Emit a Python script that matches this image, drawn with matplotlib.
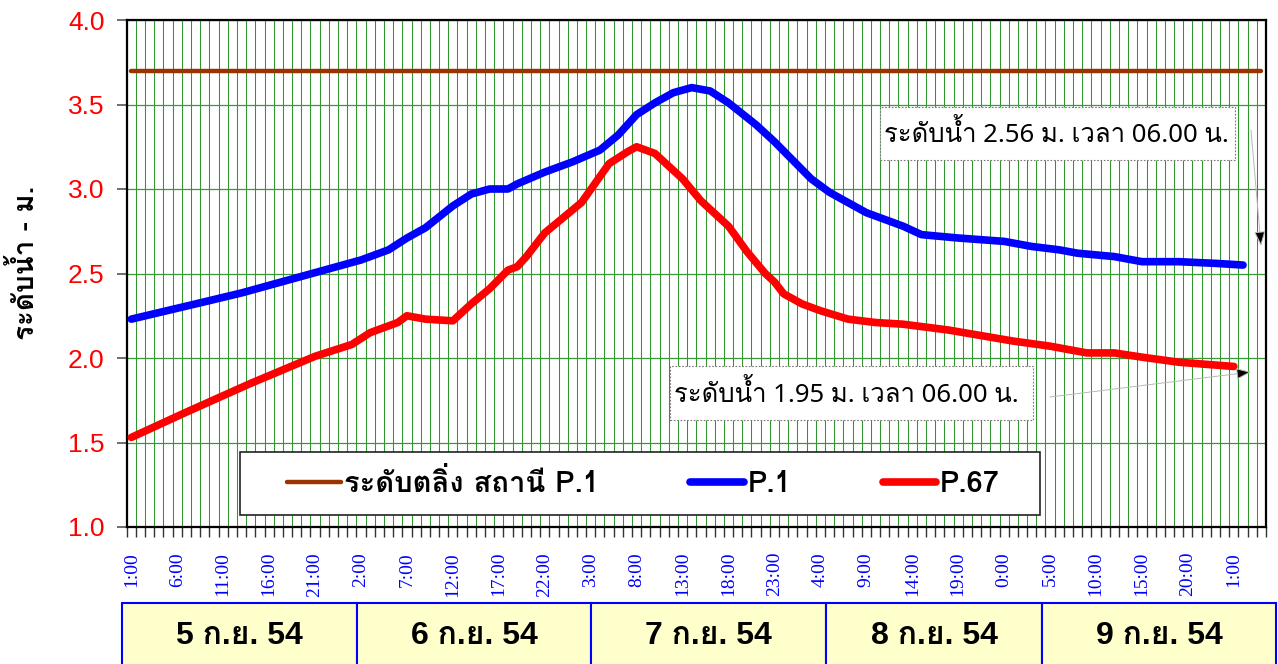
import numpy as np
import matplotlib
matplotlib.use("Agg")
import matplotlib.pyplot as plt
from matplotlib import font_manager, ft2font
from matplotlib.patches import Rectangle

# ---------------- data ----------------
n_hours = 124  # hourly categories starting 1:00 on 5 Sep
tick_label_hours = [0, 5, 10, 15, 20, 25, 30, 35, 40, 45, 50, 55, 60, 65, 70,
                    75, 80, 85, 90, 95, 100, 105, 110, 115, 120]
tick_labels = ["1:00", "6:00", "11:00", "16:00", "21:00", "2:00", "7:00", "12:00",
               "17:00", "22:00", "3:00", "8:00", "13:00", "18:00", "23:00", "4:00",
               "9:00", "14:00", "19:00", "0:00", "5:00", "10:00", "15:00", "20:00", "1:00"]
day_labels = ["5 ก.ย. 54", "6 ก.ย. 54", "7 ก.ย. 54", "8 ก.ย. 54", "9 ก.ย. 54"]

bank_level = 3.70

p1_hours = [0, 7, 12, 17, 21, 25, 28, 30, 32, 35, 37, 39, 41, 42, 45, 48, 51, 53, 55,
            57, 59, 61, 63, 65, 68, 70, 72, 74, 76, 78, 80, 84, 86, 90, 95, 98, 101,
            103, 107, 110, 114, 118, 121]
p1_levels = [2.23, 2.32, 2.385, 2.46, 2.52, 2.58, 2.64, 2.71, 2.77, 2.90, 2.97, 3.00,
             3.00, 3.03, 3.10, 3.16, 3.23, 3.32, 3.44, 3.51, 3.57, 3.60, 3.58, 3.51,
             3.38, 3.28, 3.17, 3.06, 2.98, 2.92, 2.86, 2.78, 2.73, 2.71, 2.69, 2.66,
             2.64, 2.62, 2.60, 2.57, 2.57, 2.56, 2.55]

p67_hours = [0, 6, 13, 20, 24, 26, 29, 30, 32, 35, 37, 39, 41, 42, 43, 45, 49, 52, 54,
             55, 57, 60, 62, 65, 67, 69, 70, 71, 73, 75, 78, 81, 84, 89, 96, 100, 104,
             107, 110, 114, 120]
p67_levels = [1.53, 1.68, 1.85, 2.01, 2.08, 2.15, 2.21, 2.25, 2.23, 2.22, 2.32, 2.41,
              2.52, 2.54, 2.60, 2.74, 2.92, 3.15, 3.22, 3.25, 3.21, 3.06, 2.93, 2.78,
              2.63, 2.50, 2.45, 2.38, 2.32, 2.28, 2.23, 2.21, 2.20, 2.165, 2.10, 2.07,
              2.03, 2.03, 2.005, 1.975, 1.95]

series_names = ["ระดับตลิ่ง สถานี P.1", "P.1", "P.67"]
note_p1 = "ระดับน้ำ 2.56 ม. เวลา 06.00 น."
note_p67 = "ระดับน้ำ 1.95 ม. เวลา 06.00 น."
y_label = "ระดับน้ำ - ม."


# ---------------- fonts ----------------
def thai_fonts():
    fams = {}
    for fe in font_manager.fontManager.ttflist:
        try:
            cmap = ft2font.FT2Font(fe.fname).get_charmap()
        except Exception:
            continue
        if 0x0E23 in cmap and 0x0E14 in cmap:
            w = fe.weight if isinstance(fe.weight, int) else 400
            fams.setdefault(fe.name, set()).add(w)
    return fams


FAMS = thai_fonts()
PREF = ["Loma", "Tahoma", "Leelawadee UI", "Garuda", "Sarabun", "Noto Sans Thai Looped",
        "Noto Sans Thai", "Waree", "Umpush"]


def pick(need_bold=False):
    for p in PREF:
        if p in FAMS and (not need_bold or max(FAMS[p]) >= 600):
            return p
    for name, ws in FAMS.items():
        if not need_bold or max(ws) >= 600:
            return name
    return "DejaVu Sans"


THAI = pick(False)
THAI_B = pick(True)
SANS = "Liberation Sans"
SERIF = "Liberation Serif"

W, H = 1278, 664
fig = plt.figure(figsize=(W / 100, H / 100), dpi=100)

ax_l, ax_r, ax_t, ax_b = 126.7, 1266, 20, 527
ax = fig.add_axes([ax_l / W, 1 - ax_b / H, (ax_r - ax_l) / W, (ax_b - ax_t) / H])

ax.set_xlim(-0.5, n_hours - 0.5)
ax.set_ylim(1.0, 4.0)

ax.set_xticks(np.arange(-0.5, n_hours, 1.0))
ax.set_xticklabels([])
ax.set_xticks(tick_label_hours, minor=True)
ax.set_xticklabels(tick_labels, minor=True, rotation=90, color="#0000FF",
                   family=SERIF, fontsize=14, va="top", ha="center")
ax.tick_params(axis="x", which="major", length=7, width=1, color="#333333", direction="out")
ax.tick_params(axis="x", which="minor", length=0, pad=18)
ax.set_yticks(np.arange(1.0, 4.01, 0.5))
ax.set_yticklabels([f"{v:.1f}" for v in np.arange(1.0, 4.01, 0.5)],
                   color="#FF0000", family=SANS, fontsize=19)
ax.tick_params(axis="y", length=7, width=1.2, color="#555555", pad=9)
ax.grid(True, axis="x", which="major", color="#2f962f", lw=0.75, zorder=0)
ax.grid(True, axis="y", which="major", color="#3a9a3a", lw=0.9, zorder=0)
ax.set_axisbelow(True)
for s in ax.spines.values():
    s.set_color("black")
    s.set_linewidth(1.6)

ax.plot([0, n_hours - 1], [bank_level, bank_level], color="#993300", lw=3.2,
        solid_capstyle="round", label=series_names[0], zorder=3)
ax.plot(p1_hours, p1_levels, color="#0000FF", lw=5.5, solid_capstyle="round",
        solid_joinstyle="round", label=series_names[1], zorder=4)
ax.plot(p67_hours, p67_levels, color="#FF0000", lw=5.5, solid_capstyle="round",
        solid_joinstyle="round", label=series_names[2], zorder=4)

ax.set_ylabel(y_label, family=[THAI_B, "DejaVu Sans"], fontweight="bold", fontsize=20)
ax.yaxis.set_label_coords(-0.077, 0.52)


def px2ax(x, y):
    return (x - ax_l) / (ax_r - ax_l), (ax_b - y) / (ax_b - ax_t)


fx0, fy0 = px2ax(240, 515)
fx1, fy1 = px2ax(1040, 452)
ax.add_patch(Rectangle((fx0, fy0), fx1 - fx0, fy1 - fy0, transform=ax.transAxes,
                       fc="white", ec="#222222", lw=1.2, zorder=6))
lx0, _ = px2ax(287, 0)
lx1, _ = px2ax(1000, 0)
leg = ax.legend(loc="center", bbox_to_anchor=(lx0, fy0, lx1 - lx0, fy1 - fy0),
                mode="expand", ncol=3, frameon=False, borderaxespad=0, borderpad=0,
                handlelength=1.85, handletextpad=0.12,
                prop={"family": ["Liberation Sans Narrow", THAI_B, "DejaVu Sans"],
                      "size": 21, "weight": "bold"})
leg.set_zorder(7)


def px2data(x, y):
    scale = (ax_r - ax_l) / n_hours
    return (x - ax_l) / scale - 0.5, 4.0 - (y - ax_t) / ((ax_b - ax_t) / 3.0)


note_font = {"family": ["Noto Sans", THAI, "DejaVu Sans"], "size": 18.5}
for note, box, tail, head in [
        (note_p1, (880, 107, 1235, 160), (1251, 130), (1261, 246)),
        (note_p67, (670, 366, 1033, 420), (1050, 397), (1251, 372))]:
    bx0, by0 = px2data(box[0], box[3])
    bx1, by1 = px2data(box[2], box[1])
    ax.add_patch(Rectangle((bx0, by0), bx1 - bx0, by1 - by0, fc="white", ec="#777777",
                           lw=0.8, ls=(0, (1.5, 1.5)), zorder=5))
    tx, ty = px2data(box[0] + 4, (box[1] + box[3]) / 2 + 1)
    ax.text(tx, ty, note, ha="left", va="center", zorder=6, **note_font)
    ax.annotate("", xy=px2data(*head), xytext=px2data(*tail),
                arrowprops=dict(arrowstyle="-|>,head_length=0.9,head_width=0.35",
                                ec="#b8b8b8", fc="black", lw=0.7,
                                shrinkA=0, shrinkB=0), zorder=6)

bax = fig.add_axes([0, 0, 1, 1], zorder=-1)
bax.set_xlim(0, W)
bax.set_ylim(H, 0)
bax.axis("off")
edges = [122, 357, 591, 826, 1042, 1276]
for i, lab in enumerate(day_labels):
    bax.add_patch(Rectangle((edges[i], 603), edges[i + 1] - edges[i], 70,
                            fc="#FFFFCC", ec="#0000FF", lw=1.5))
    bax.text((edges[i] + edges[i + 1]) / 2, 636, lab, ha="center", va="center",
             fontsize=23, fontweight="bold", family=[SANS, THAI_B, "DejaVu Sans"])

fig.savefig("out.png", dpi=100)
